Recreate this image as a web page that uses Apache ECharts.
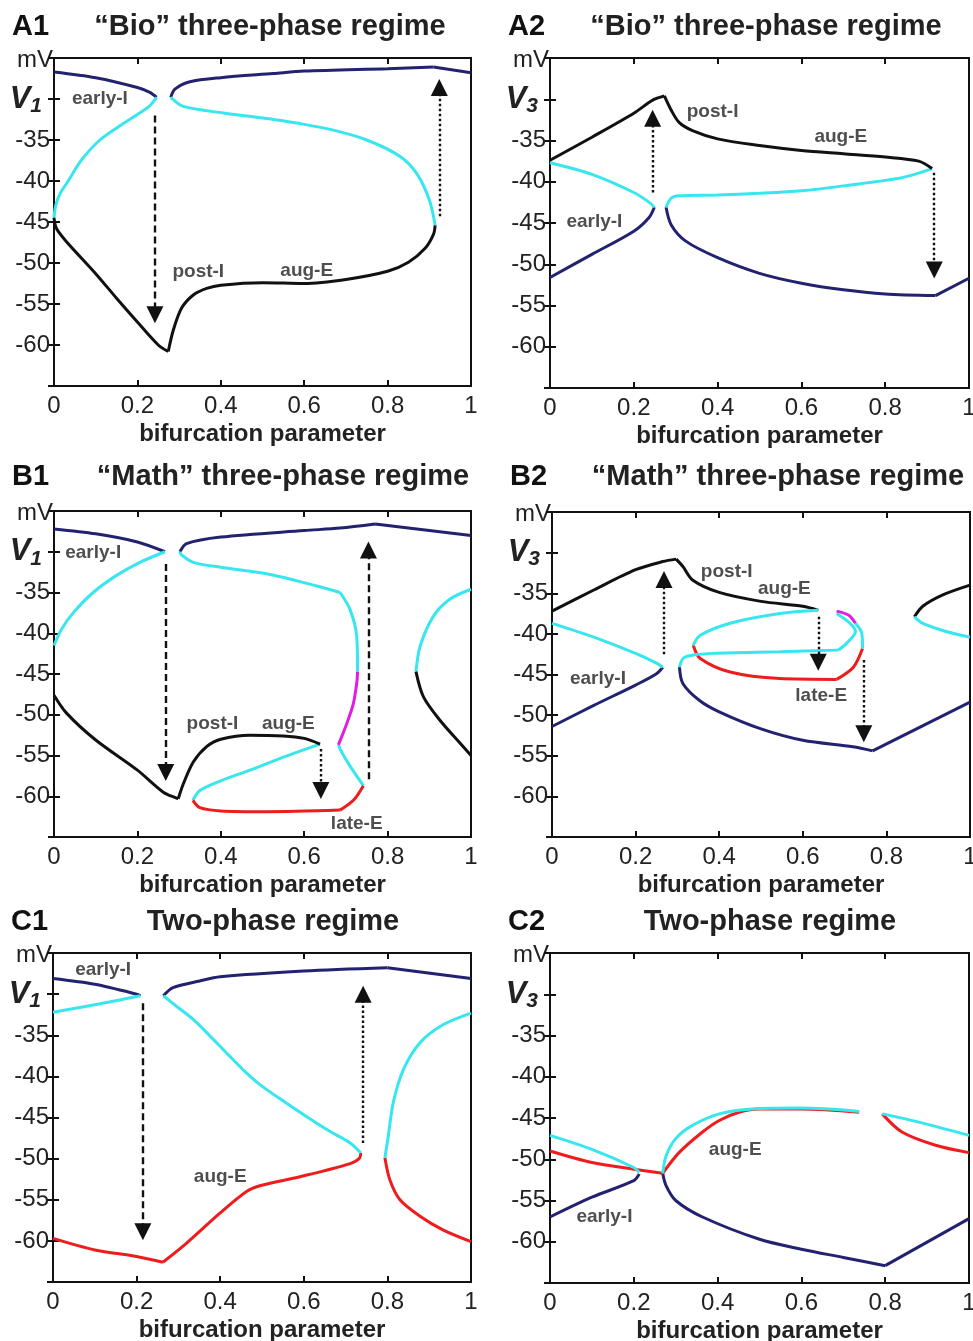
<!DOCTYPE html>
<html>
<head>
<meta charset="utf-8">
<script src="https://cdn.jsdelivr.net/npm/echarts@6/dist/echarts.min.js"></script>
<style>
  html, body { margin: 0; padding: 0; background: #fff; overflow: hidden; }
  #chart { width: 973px; height: 1341px; }
</style>
</head>
<body>
<div id="chart"></div>
<script>
// tick values shared by every panel
var xTicks = [0, 0.2, 0.4, 0.6, 0.8, 1];
var yLabelled = [-35, -40, -45, -50, -55, -60];

// ---- A1: "Bio", V1 ----
var a1NavyL = [[0, -26.7], [0.1, -27.4], [0.2, -28.6], [0.23, -29.2], [0.246, -29.8]];
var a1CyanL = [[0, -44.5], [0.004, -43.0], [0.015, -41.5], [0.034, -40.0], [0.065, -37.5], [0.11, -35.0], [0.16, -33.2], [0.2, -31.9], [0.23, -30.8], [0.246, -29.8]];
var a1BlackL = [[0, -44.5], [0.006, -45.8], [0.03, -47.4], [0.1, -51.3], [0.15, -54.3], [0.2, -57.2], [0.25, -60.0], [0.274, -60.8]];
var a1BlackR = [[0.274, -60.8], [0.286, -58.2], [0.306, -55.5], [0.334, -53.9], [0.366, -53.1], [0.4, -52.7], [0.5, -52.4], [0.6, -52.5], [0.7, -52.0], [0.8, -51.0], [0.85, -49.9], [0.89, -48.2], [0.91, -46.5], [0.914, -45.4]];
var a1CyanR = [[0.914, -45.4], [0.9, -42.3], [0.87, -39.1], [0.83, -37.0], [0.75, -35.0], [0.67, -33.8], [0.59, -33.0], [0.526, -32.5], [0.406, -31.7], [0.31, -30.9], [0.28, -29.8]];
var a1NavyR = [[0.28, -29.8], [0.29, -28.8], [0.326, -27.9], [0.4, -27.4], [0.526, -26.9], [0.6, -26.6], [0.8, -26.3], [0.91, -26.1]];
var a1NavyEnd = [[0.91, -26.1], [1, -26.8]];
var a1Arrows = [[0.242, -32.0, -57.3, 'dashed'], [0.924, -44.3, -27.6, 'dotted']];
var a1Labels = [[0.11, -30.0, 'early-I'], [0.346, -51.1, 'post-I'], [0.606, -50.9, 'aug-E']];

// ---- A2: "Bio", V3 ----
var a2BlackL = [[0, -37.4], [0.1, -34.6], [0.2, -31.7], [0.245, -30.1], [0.273, -29.6]];
var a2BlackR = [[0.273, -29.6], [0.289, -31.3], [0.308, -32.8], [0.34, -33.8], [0.4, -34.8], [0.5, -35.6], [0.6, -36.2], [0.7, -36.6], [0.8, -37.0], [0.88, -37.5], [0.912, -38.4]];
var a2CyanR = [[0.912, -38.4], [0.84, -39.5], [0.7, -40.5], [0.6, -41.1], [0.5, -41.4], [0.4, -41.6], [0.308, -41.7], [0.289, -42.0], [0.277, -43.1]];
var a2NavyR = [[0.277, -43.1], [0.289, -45.2], [0.324, -47.2], [0.4, -49.2], [0.5, -51.1], [0.6, -52.3], [0.7, -53.1], [0.8, -53.6], [0.92, -53.8]];
var a2NavyEnd = [[0.92, -53.8], [1, -51.7]];
var a2CyanL = [[0, -37.7], [0.1, -39.1], [0.2, -41.3], [0.237, -42.5], [0.249, -43.1]];
var a2NavyL = [[0, -51.6], [0.1, -48.8], [0.2, -46.0], [0.237, -44.3], [0.249, -43.1]];
var a2Arrows = [[0.245, -41.3, -31.3, 'dotted'], [0.917, -38.9, -51.7, 'dotted']];
var a2Labels = [[0.388, -31.5, 'post-I'], [0.694, -34.5, 'aug-E'], [0.106, -44.8, 'early-I']];

// ---- B1: "Math", V1 ----
var b1NavyL = [[0, -27.2], [0.1, -27.8], [0.2, -28.8], [0.266, -30.0]];
var b1CyanL = [[0, -41.5], [0.018, -39.5], [0.046, -37.5], [0.094, -35.0], [0.15, -32.9], [0.206, -31.3], [0.266, -30.0]];
var b1BlackL = [[0, -47.6], [0.03, -49.8], [0.1, -53.1], [0.2, -56.8], [0.262, -59.5], [0.298, -60.3]];
var b1BlackM = [[0.298, -60.3], [0.31, -58.5], [0.334, -55.8], [0.366, -53.9], [0.4, -53.0], [0.47, -52.5], [0.55, -52.6], [0.6, -52.9], [0.638, -53.6]];
var b1CyanLow = [[0.638, -53.6], [0.55, -55.2], [0.47, -56.8], [0.4, -58.1], [0.35, -59.3], [0.333, -60.5]];
var b1RedA = [[0.333, -60.5], [0.35, -61.4], [0.4, -61.8], [0.51, -61.9], [0.686, -61.7]];
var b1RedB = [[0.686, -61.7], [0.718, -60.5], [0.742, -58.7]];
var b1CyanMid = [[0.742, -58.7], [0.71, -56.3], [0.69, -54.6], [0.682, -53.7]];
var b1Mag = [[0.682, -53.7], [0.702, -51.1], [0.718, -48.6], [0.726, -46.1], [0.728, -44.7]];
var b1CyanUpA = [[0.728, -44.7], [0.726, -40.4], [0.71, -37.1], [0.686, -35.0]];
var b1CyanUpB = [[0.686, -35.0], [0.63, -34.2], [0.51, -32.7], [0.4, -31.9], [0.334, -31.3], [0.306, -30.4], [0.302, -30.0]];
var b1NavyR = [[0.302, -30.0], [0.318, -29.0], [0.4, -28.2], [0.6, -27.4], [0.686, -27.1], [0.77, -26.6]];
var b1NavyEnd = [[0.77, -26.6], [1, -28.0]];
var b1CyanRt = [[0.868, -44.7], [0.878, -41.6], [0.91, -37.9], [0.95, -35.8], [1, -34.6]];
var b1BlackRt = [[0.868, -44.7], [0.886, -47.8], [0.926, -50.7], [0.974, -53.5], [1, -55.0]];
var b1Arrows = [[0.268, -31.5, -58.1, 'dashed'], [0.64, -54.2, -60.3, 'dotted'], [0.754, -57.9, -28.8, 'dashed']];
var b1Labels = [[0.094, -30.1, 'early-I'], [0.38, -51.1, 'post-I'], [0.562, -51.1, 'aug-E'], [0.726, -63.4, 'late-E']];

// ---- B2: "Math", V3 ----
var b2BlackL = [[0, -37.2], [0.1, -34.6], [0.2, -32.1], [0.265, -31.1], [0.297, -30.8]];
var b2BlackR = [[0.297, -30.8], [0.313, -31.7], [0.337, -33.4], [0.4, -34.9], [0.5, -36.0], [0.6, -36.6], [0.637, -37.1]];
var b2CyanEll = [[0.637, -37.1], [0.545, -37.5], [0.426, -38.7], [0.354, -40.2], [0.338, -41.4]];
var b2RedA = [[0.338, -41.4], [0.354, -43.0], [0.426, -44.7], [0.545, -45.5], [0.681, -45.6]];
var b2RedB = [[0.681, -45.6], [0.721, -44.1], [0.743, -41.8]];
var b2CyanA = [[0.743, -41.8], [0.741, -39.9], [0.726, -38.7]];
var b2Mag = [[0.726, -38.7], [0.71, -37.7], [0.681, -37.2]];
var b2CyanB = [[0.681, -37.5], [0.713, -38.7], [0.726, -39.7], [0.704, -41.2], [0.685, -42.0]];
var b2CyanLow = [[0.685, -42.0], [0.545, -42.2], [0.386, -42.4], [0.338, -42.6], [0.314, -43.0], [0.305, -44.1]];
var b2NavyR = [[0.305, -44.1], [0.313, -46.1], [0.353, -48.2], [0.4, -49.6], [0.5, -51.7], [0.6, -53.1], [0.72, -53.9], [0.767, -54.4]];
var b2NavyEnd = [[0.767, -54.4], [1, -48.4]];
var b2CyanL = [[0, -38.7], [0.1, -40.4], [0.2, -42.4], [0.25, -43.6], [0.265, -44.1]];
var b2NavyL = [[0, -51.4], [0.1, -48.8], [0.2, -46.3], [0.25, -44.9], [0.265, -44.1]];
var b2BlackRt = [[0.867, -37.9], [0.887, -36.6], [0.935, -35.2], [1, -34.0]];
var b2CyanRt = [[0.867, -37.9], [0.887, -38.7], [0.943, -39.7], [1, -40.4]];
var b2Arrows = [[0.268, -42.5, -32.3, 'dotted'], [0.637, -37.9, -44.5, 'dotted'], [0.746, -43.2, -53.3, 'dotted']];
var b2Labels = [[0.418, -32.4, 'post-I'], [0.556, -34.5, 'aug-E'], [0.11, -45.5, 'early-I'], [0.644, -47.6, 'late-E']];

// ---- C1: two-phase, V1 ----
var c1NavyL = [[0, -28.1], [0.1, -28.8], [0.2, -30.0], [0.209, -30.2]];
var c1CyanL = [[0, -32.2], [0.1, -31.3], [0.2, -30.3], [0.209, -30.2]];
var c1NavyR = [[0.264, -30.2], [0.287, -29.2], [0.351, -28.4], [0.4, -27.9], [0.6, -27.2], [0.8, -26.8]];
var c1NavyEnd = [[0.8, -26.8], [1, -28.1]];
var c1CyanM = [[0.264, -30.2], [0.296, -31.5], [0.336, -33.1], [0.376, -35.1], [0.416, -37.2], [0.455, -39.2], [0.495, -41.0], [0.551, -43.0], [0.607, -44.9], [0.663, -46.7], [0.711, -48.1], [0.736, -49.3]];
var c1RedM = [[0.736, -49.3], [0.734, -49.9], [0.711, -50.6], [0.591, -52.2], [0.495, -53.3], [0.463, -54.0], [0.4, -56.6], [0.319, -60.3], [0.263, -62.6]];
var c1RedL = [[0.263, -62.6], [0.2, -61.9], [0.1, -61.1], [0, -59.7]];
var c1CyanRt = [[0.794, -49.9], [0.802, -47.3], [0.814, -43.2], [0.838, -39.2], [0.878, -35.9], [0.934, -33.7], [1, -32.3]];
var c1RedRt = [[0.794, -49.9], [0.806, -52.6], [0.83, -55.0], [0.878, -57.0], [0.934, -58.7], [1, -60.1]];
var c1Arrows = [[0.215, -31.1, -59.9, 'dashed'], [0.742, -48.1, -29.0, 'dotted']];
var c1Labels = [[0.12, -27.0, 'early-I'], [0.4, -52.2, 'aug-E']];

// ---- C2: two-phase, V3 ----
var c2RedL = [[0, -49.0], [0.1, -50.4], [0.2, -51.2], [0.269, -51.7]];
var c2CyanL = [[0, -47.1], [0.1, -48.8], [0.2, -51.0], [0.213, -51.6]];
var c2NavyL = [[0, -57.0], [0.1, -54.6], [0.2, -52.6], [0.213, -51.8]];
var c2RedM = [[0.269, -51.7], [0.308, -49.2], [0.364, -46.7], [0.404, -45.3], [0.451, -44.3], [0.5, -43.9], [0.6, -43.9], [0.738, -44.3]];
var c2CyanM = [[0.269, -51.7], [0.277, -49.6], [0.3, -47.5], [0.34, -45.9], [0.404, -44.5], [0.483, -43.9], [0.6, -43.8], [0.738, -44.2]];
var c2NavyM = [[0.269, -51.7], [0.277, -53.2], [0.3, -55.0], [0.364, -57.0], [0.5, -59.7], [0.6, -60.9], [0.7, -61.9], [0.8, -62.9]];
var c2NavyEnd = [[0.8, -62.9], [1, -57.2]];
var c2RedRt = [[0.793, -44.5], [0.84, -46.7], [0.92, -48.3], [1, -49.2]];
var c2CyanRt = [[0.793, -44.5], [0.88, -45.5], [1, -47.1]];
var c2Arrows = [];
var c2Labels = [[0.442, -48.8, 'aug-E'], [0.13, -57.0, 'early-I']];

var colors = { navy: '#222270', cyan: '#38e6f0', black: '#111111', red: '#ee1c1c', mag: '#e01ee0' };

var panels = [
  { tag: 'A1', title: '\u201cBio\u201d three-phase regime', v: '1', box: [54, 58, 417, 328], tx: 270, ty: 12,
    curves: [[a1NavyL, 'navy'], [a1NavyR, 'navy'], [a1NavyEnd, 'navy'], [a1CyanL, 'cyan'], [a1CyanR, 'cyan'], [a1BlackL, 'black'], [a1BlackR, 'black']],
    arrows: a1Arrows, labels: a1Labels },
  { tag: 'A2', title: '\u201cBio\u201d three-phase regime', v: '3', box: [550, 58, 419, 330], tx: 766, ty: 12,
    curves: [[a2NavyL, 'navy'], [a2NavyR, 'navy'], [a2NavyEnd, 'navy'], [a2CyanL, 'cyan'], [a2CyanR, 'cyan'], [a2BlackL, 'black'], [a2BlackR, 'black']],
    arrows: a2Arrows, labels: a2Labels },
  { tag: 'B1', title: '\u201cMath\u201d three-phase regime', v: '1', box: [54, 511, 417, 326], tx: 283, ty: 462,
    curves: [[b1NavyL, 'navy'], [b1NavyR, 'navy'], [b1NavyEnd, 'navy'], [b1CyanL, 'cyan'], [b1CyanLow, 'cyan'], [b1CyanMid, 'cyan'], [b1CyanUpA, 'cyan'], [b1CyanUpB, 'cyan'], [b1CyanRt, 'cyan'],
      [b1BlackL, 'black'], [b1BlackM, 'black'], [b1BlackRt, 'black'], [b1RedA, 'red'], [b1RedB, 'red'], [b1Mag, 'mag']],
    arrows: b1Arrows, labels: b1Labels },
  { tag: 'B2', title: '\u201cMath\u201d three-phase regime', v: '3', box: [552, 512, 418, 325], tx: 778, ty: 462,
    curves: [[b2NavyL, 'navy'], [b2NavyR, 'navy'], [b2NavyEnd, 'navy'], [b2BlackL, 'black'], [b2BlackR, 'black'], [b2BlackRt, 'black'],
      [b2RedA, 'red'], [b2RedB, 'red'], [b2CyanL, 'cyan'], [b2CyanEll, 'cyan'], [b2CyanA, 'cyan'], [b2CyanB, 'cyan'], [b2CyanLow, 'cyan'], [b2CyanRt, 'cyan'], [b2Mag, 'mag']],
    arrows: b2Arrows, labels: b2Labels },
  { tag: 'C1', title: 'Two-phase regime', v: '1', box: [53, 953, 418, 329], tx: 273, ty: 907,
    curves: [[c1NavyL, 'navy'], [c1NavyR, 'navy'], [c1NavyEnd, 'navy'], [c1RedM, 'red'], [c1RedL, 'red'], [c1RedRt, 'red'], [c1CyanL, 'cyan'], [c1CyanM, 'cyan'], [c1CyanRt, 'cyan']],
    arrows: c1Arrows, labels: c1Labels },
  { tag: 'C2', title: 'Two-phase regime', v: '3', box: [550, 953, 419, 330], tx: 770, ty: 907,
    curves: [[c2NavyL, 'navy'], [c2NavyM, 'navy'], [c2NavyEnd, 'navy'], [c2RedL, 'red'], [c2RedM, 'red'], [c2RedRt, 'red'], [c2CyanL, 'cyan'], [c2CyanM, 'cyan'], [c2CyanRt, 'cyan']],
    arrows: c2Arrows, labels: c2Labels }
];

var FONT = 'Liberation Sans, Arial, Helvetica, sans-serif';
var grids = [], xAxes = [], yAxes = [], series = [], graphics = [];

panels.forEach(function (p, i) {
  grids.push({ left: p.box[0], top: p.box[1], width: p.box[2], height: p.box[3], show: true,
    outerBoundsMode: 'none', containLabel: false,
    borderColor: '#111', borderWidth: 2, backgroundColor: 'transparent' });
  var tick = { show: true, inside: true, length: 6, lineStyle: { color: '#111', width: 2 } };
  xAxes.push({ type: 'value', gridIndex: i, min: 0, max: 1, interval: 0.2, position: 'bottom',
    axisLine: { show: false }, splitLine: { show: false }, axisTick: tick,
    axisLabel: { fontSize: 24, color: '#222', fontFamily: FONT, margin: 8,
      formatter: function (v) { return xTicks.indexOf(+v.toFixed(1)) >= 0 ? (+v.toFixed(1)).toString() : ''; } },
    name: 'bifurcation parameter', nameLocation: 'middle', nameGap: 36,
    nameTextStyle: { fontSize: 24, fontWeight: 'bold', color: '#222', fontFamily: FONT } });
  xAxes.push({ type: 'value', gridIndex: i, min: 0, max: 1, interval: 0.2, position: 'top',
    axisLine: { show: false }, splitLine: { show: false }, axisTick: tick, axisLabel: { show: false } });
  yAxes.push({ type: 'value', gridIndex: i, min: -65, max: -25, interval: 5, position: 'left',
    axisLine: { show: false }, splitLine: { show: false }, axisTick: tick,
    axisLabel: { fontSize: 24, color: '#222', fontFamily: FONT, margin: 4,
      formatter: function (v) {
        if (v === -30) return '{v|V}{s|' + p.v + '}';
        return yLabelled.indexOf(v) >= 0 ? String(v) : '';
      },
      rich: {
        v: { fontSize: 31, fontWeight: 'bold', fontStyle: 'italic', color: '#222', fontFamily: FONT },
        s: { fontSize: 21, fontWeight: 'bold', fontStyle: 'italic', color: '#222', fontFamily: FONT, padding: [14, 8, 0, 0] }
      } } });
  yAxes.push({ type: 'value', gridIndex: i, min: -65, max: -25, interval: 5, position: 'right',
    axisLine: { show: false }, splitLine: { show: false }, axisTick: tick, axisLabel: { show: false } });

  p.curves.forEach(function (c) {
    series.push({ type: 'line', xAxisIndex: 2 * i, yAxisIndex: 2 * i, data: c[0], showSymbol: false,
      smooth: 0.3, animation: false, silent: true,
      lineStyle: { color: colors[c[1]], width: 3 } });
  });

  var lines = p.arrows.map(function (a) {
    var up = a[2] > a[1];
    return [{ coord: [a[0], a[1]] },
      { coord: [a[0], a[2] + (up ? -1.0 : 1.0)],
        lineStyle: { color: '#111', width: 2.4, type: a[3] === 'dashed' ? [7, 4] : [2.5, 2.5] } }];
  });
  series.push({ type: 'scatter', xAxisIndex: 2 * i, yAxisIndex: 2 * i, animation: false, silent: true,
    symbolSize: 1, itemStyle: { color: 'rgba(0,0,0,0)' },
    data: p.labels.map(function (l) { return { value: [l[0], l[1]], name: l[2] }; }),
    label: { show: true, position: 'inside', formatter: '{b}', fontSize: 19, fontWeight: 'bold',
      color: '#222', fontFamily: FONT },
    markLine: { silent: true, animation: false, symbol: ['none', 'triangle'], symbolSize: 17,
      label: { show: false }, emphasis: { disabled: true },
      lineStyle: { color: '#111', width: 2.4 }, data: lines } });

  graphics.push({ type: 'text', left: p.box[0] - 42, top: p.ty,
    style: { text: p.tag, fontSize: 29, fontWeight: 'bold', fill: '#111', fontFamily: FONT } });
  graphics.push({ type: 'text', x: p.tx, y: p.ty,
    style: { text: p.title, fontSize: 29, fontWeight: 'bold', fill: '#222', fontFamily: FONT,
      align: 'center', textAlign: 'center', verticalAlign: 'top', textVerticalAlign: 'top' } });
  graphics.push({ type: 'text', x: p.box[0] - 1, y: p.box[1] + 2,
    style: { text: 'mV', fontSize: 24, fill: '#222', fontFamily: FONT,
      align: 'right', textAlign: 'right', verticalAlign: 'middle', textVerticalAlign: 'middle' } });
});

var chart = echarts.init(document.getElementById('chart'), null, { renderer: 'canvas' });
chart.setOption({
  animation: false,
  backgroundColor: '#fff',
  grid: grids,
  xAxis: xAxes,
  yAxis: yAxes,
  series: series,
  graphic: graphics
});
</script>
</body>
</html>
